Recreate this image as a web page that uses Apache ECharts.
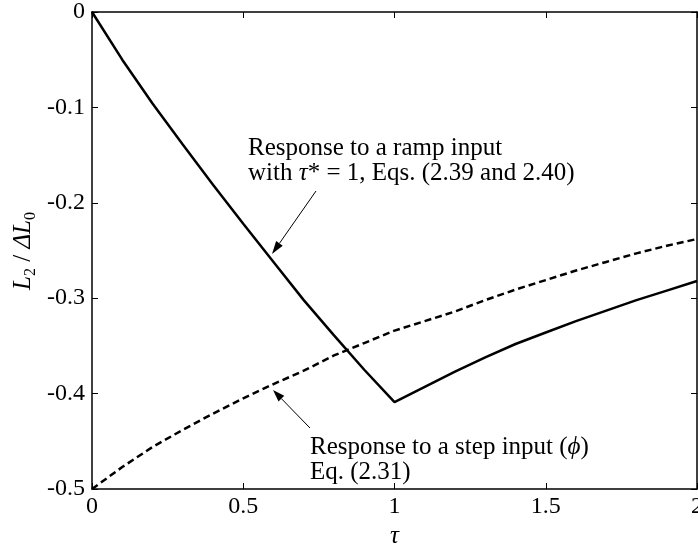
<!DOCTYPE html>
<html>
<head>
<meta charset="utf-8">
<script src="https://cdn.jsdelivr.net/npm/echarts@6/dist/echarts.min.js"></script>
<style>html,body{margin:0;padding:0;background:#fff}#c{width:698px;height:548px}</style>
</head>
<body>
<div id="c"></div>
<script>
const tau = [0,0.1,0.2,0.3,0.4,0.5,0.6,0.7,0.8,0.9,1.0,1.1,1.2,1.3,1.4,1.5,1.6,1.7,1.8,1.9,2.0];
const rampResponse = [0,-0.050,-0.096,-0.139,-0.181,-0.222,-0.262,-0.302,-0.339,-0.375,-0.409,-0.393,-0.377,-0.362,-0.348,-0.336,-0.324,-0.313,-0.302,-0.292,-0.282];
const stepResponse = [-0.5,-0.477,-0.456,-0.438,-0.421,-0.405,-0.390,-0.376,-0.360,-0.347,-0.334,-0.324,-0.314,-0.302,-0.291,-0.281,-0.271,-0.262,-0.253,-0.245,-0.238];
const xTicks = ['0','0.5','1','1.5','2'];
const yTicks = ['-0.5','-0.4','-0.3','-0.2','-0.1','0'];

const FONT = 'Liberation Serif, Times New Roman, serif';
const FS = 24;
const AFS = 25;
const chart = echarts.init(document.getElementById('c'), null, {renderer:'canvas'});

function fmtX(v){ const s = String(Math.round(v*10)/10); return xTicks.indexOf(s)>=0 ? s : ''; }
function fmtY(v){ const s = String(Math.round(v*10)/10); return yTicks.indexOf(s)>=0 ? s : ''; }

const axisCommon = {
  axisLine:{show:true, onZero:false, lineStyle:{color:'#000', width:1.5}},
  axisTick:{show:true, inside:true, length:6, lineStyle:{color:'#000', width:1}},
  splitLine:{show:false}
};

function arrow(x1,y1,x2,y2,len,wid){
  const dx=x2-x1, dy=y2-y1, L=Math.hypot(dx,dy), ux=dx/L, uy=dy/L;
  const bx=x2-ux*len, by=y2-uy*len, px=-uy*wid/2, py=ux*wid/2;
  return [
    {type:'line', shape:{x1:x1,y1:y1,x2:bx,y2:by}, style:{stroke:'#000', lineWidth:1}, z:10},
    {type:'polygon', shape:{points:[[x2,y2],[bx+px,by+py],[bx-px,by-py]]}, style:{fill:'#000'}, z:10}
  ];
}

const richBase = {
  it:{fontFamily:FONT, fontSize:AFS, fontStyle:'italic', fill:'#000'}
};
const txt = (x,y,text) => ({type:'text', x:x, y:y, z:10,
  style:{text:text, fontFamily:FONT, fontSize:AFS, fill:'#000', verticalAlign:'middle', align:'left', rich:richBase}});

chart.setOption({
  animation:false,
  backgroundColor:'#fff',
  grid:{left:92, right:1, top:12, bottom:59, outerBoundsMode:'none', containLabel:false},
  xAxis:[
    Object.assign({type:'value', min:0, max:2, interval:0.5, position:'bottom',
      name:'τ', nameLocation:'middle', nameGap:29,
      nameTextStyle:{fontFamily:FONT, fontSize:AFS, fontStyle:'italic', color:'#000'},
      axisLabel:{show:true, margin:6, color:'#000', fontFamily:FONT, fontSize:FS, formatter:fmtX, showMaxLabel:true, showMinLabel:true}
    }, axisCommon),
    Object.assign({type:'value', min:0, max:2, interval:0.5, position:'top', axisLabel:{show:false}}, axisCommon)
  ],
  yAxis:[
    Object.assign({type:'value', min:-0.5, max:0, interval:0.1, position:'left',
      axisLabel:{show:true, margin:7, color:'#000', fontFamily:FONT, fontSize:FS, formatter:fmtY, showMaxLabel:true, showMinLabel:true}
    }, axisCommon),
    Object.assign({type:'value', min:-0.5, max:0, interval:0.1, position:'right', axisLabel:{show:false}}, axisCommon)
  ],
  series:[
    {type:'line', xAxisIndex:0, yAxisIndex:0, data:tau.map((t,i)=>[t,rampResponse[i]]), showSymbol:false, symbol:'none',
      lineStyle:{color:'#000', width:2.5, type:'solid'}, z:5},
    {type:'line', xAxisIndex:0, yAxisIndex:0, data:tau.map((t,i)=>[t,stepResponse[i]]), showSymbol:false, symbol:'none',
      lineStyle:{color:'#000', width:2.5, type:[7,4]}, z:5}
  ],
  graphic:[
    txt(248,148,'Response to a ramp input'),
    txt(248,173,'with {it|τ}* = 1, Eqs. (2.39 and 2.40)'),
    ...arrow(316,191,272,254,13,8),
    txt(310,447,'Response to a step input ({it|ϕ})'),
    txt(310,472,'Eq. (2.31)'),
    ...arrow(310,428,273,390,12,8),
    {type:'text', x:23, y:251, rotation:Math.PI/2, z:10,
      style:{text:'{it|L}{sub|2} / {it|ΔL}{sub|0}', align:'center', verticalAlign:'middle', fill:'#000',
        fontFamily:FONT, fontSize:AFS,
        rich:{
          it:{fontFamily:FONT, fontSize:AFS, fontStyle:'italic', fill:'#000', lineHeight:32, verticalAlign:'middle'},
          sub:{fontFamily:FONT, fontSize:16, fill:'#000', lineHeight:16, verticalAlign:'bottom'}
        }}}
  ]
});
</script>
</body>
</html>
